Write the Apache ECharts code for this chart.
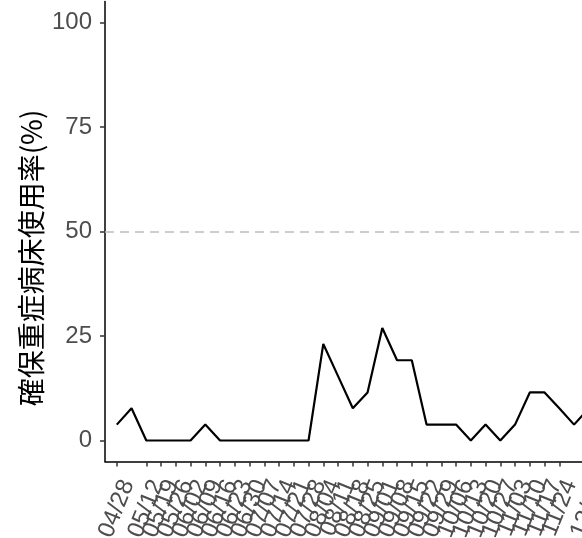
<!DOCTYPE html>
<html><head><meta charset="utf-8">
<script src="https://cdn.jsdelivr.net/npm/echarts@6/dist/echarts.min.js"></script>
<style>html,body{margin:0;padding:0;background:#fff}#c{width:582px;height:538px}</style>
</head><body><div id="c"></div>
<script>
const dates = ["04/28","05/05","05/12","05/19","05/26","06/02","06/09","06/16","06/23","06/30",
  "07/07","07/14","07/21","07/28","08/04","08/11","08/18","08/25","09/01","09/08",
  "09/15","09/22","09/29","10/06","10/13","10/20","10/27","11/03","11/10","11/17",
  "11/24","12/01","12/08"];
const usage = [3.8,7.7,0,0,0,0,3.8,0,0,0,
  0,0,0,0,23.1,15.4,7.7,11.5,26.9,19.2,
  19.2,3.8,3.8,3.8,0,3.8,0,3.8,11.5,11.5,
  7.7,3.8,7.7];
const yTicks = [0,25,50,75,100];
const refLine = 50;
const yTitle = "確保重症病床使用率(%)";

const idx = dates.map((d,i)=>i);
const chart = echarts.init(document.getElementById('c'), null, {renderer:'canvas'});
chart.setOption({
  animation:false,
  backgroundColor:'#fff',
  grid:{left:105, top:1.6, width:(dates.length-1+0.8)*14.75, bottom:76.6,
    containLabel:false, outerBoundsMode:'none'},
  graphic:[{
    type:'text', x:31, y:258, rotation:Math.PI/2,
    style:{text:yTitle, fontSize:28, fill:'#000', fontFamily:'Noto Sans CJK JP, sans-serif',
      align:'center', verticalAlign:'middle'}
  }],
  xAxis:{
    type:'value', min:-0.8, max:dates.length-1,
    axisLine:{show:true, onZero:false, lineStyle:{color:'#000', width:1.5}},
    axisTick:{show:true, customValues:idx, length:5, lineStyle:{color:'#333', width:1.5}},
    axisLabel:{show:true, customValues:idx, rotate:68, margin:15, fontSize:24,
      verticalAlign:'top', align:'right',
      showMinLabel:true, showMaxLabel:true, hideOverlap:false,
      color:'#4d4d4d', fontFamily:'Liberation Sans, Arial, sans-serif',
      formatter:v=>dates[Math.round(v)]},
    splitLine:{show:false}
  },
  yAxis:{
    type:'value', min:-5, max:105,
    axisLine:{show:true, onZero:false, lineStyle:{color:'#000', width:1.5}},
    axisTick:{show:true, customValues:yTicks, length:5, lineStyle:{color:'#333', width:1.5}},
    axisLabel:{show:true, customValues:yTicks, margin:13, fontSize:24,
      color:'#4d4d4d', fontFamily:'Liberation Sans, Arial, sans-serif'},
    splitLine:{show:false}
  },
  series:[{
    type:'line', data:usage.map((v,i)=>[i,v]), symbol:'none',
    lineStyle:{color:'#000', width:2.2},
    markLine:{silent:true, symbol:'none', label:{show:false},
      lineStyle:{color:'#bdbdbd', type:[9,6], width:1.5},
      data:[{yAxis:refLine}]}
  }]
});
</script>
</body></html>
